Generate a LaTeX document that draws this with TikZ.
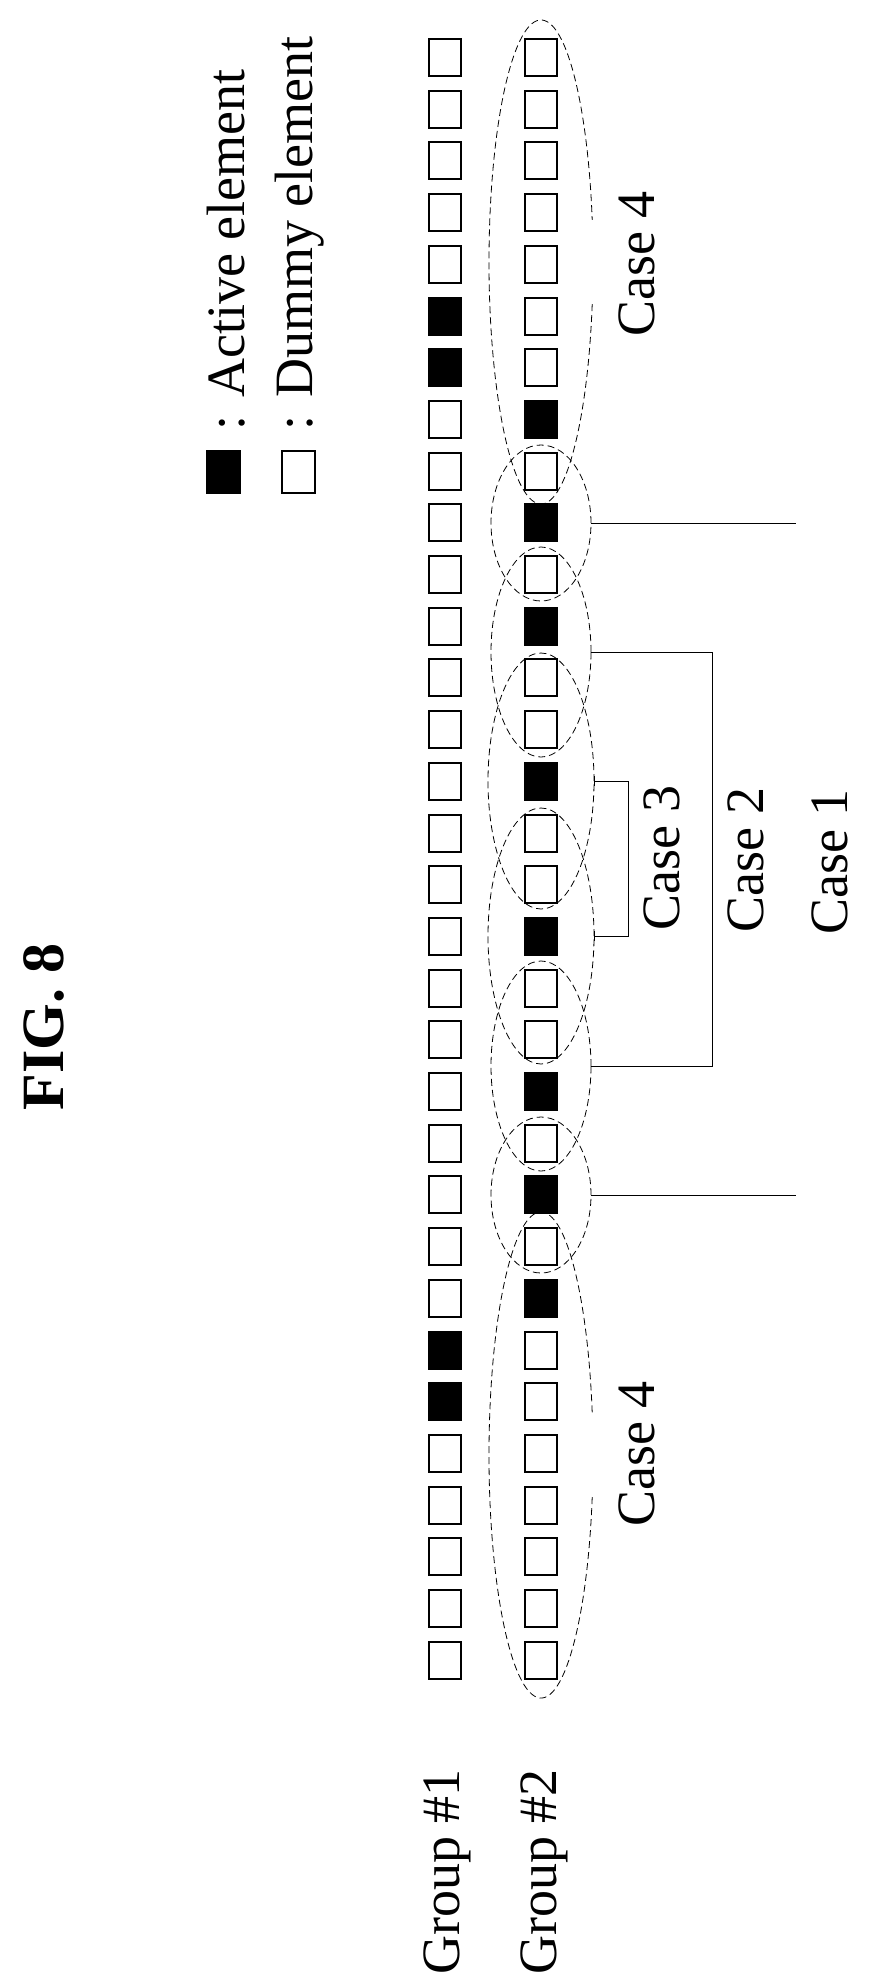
\documentclass[tikz,border=0pt]{standalone}
\usepackage{fontspec}
\setmainfont{Liberation Serif}
\usepackage{tikz}
\usetikzlibrary{positioning,shapes,arrows.meta}
\tikzstyle{dummy}=[%
      rectangle, draw=black, line width=2pt, fill=white,
      minimum width=32pt, minimum height=37pt, inner sep=0pt
]
\tikzstyle{active}=[%
      rectangle, draw=black, line width=2pt, fill=black,
      minimum width=32pt, minimum height=37pt, inner sep=0pt
]
\tikzstyle{grp}=[%
      ellipse, draw=black, line width=0.8pt, dash pattern=on 7pt off 4pt,
      inner sep=0pt
]
\tikzstyle{lbl}=[%
      rotate=90, font=\fontsize{54}{60}\selectfont, inner sep=0pt
]

\begin{document}
\begin{tikzpicture}[x=1pt, y=-1pt]
    \useasboundingbox (0,0) rectangle (869,1978);

    % elements of both groups
    \foreach \i in {1,...,32}{
      \gdef\stA{dummy}\gdef\stB{dummy}
      \foreach \j in {6,7,26,27}{\ifnum\i=\j \gdef\stA{active}\fi}
      \foreach \j in {8,10,12,15,18,21,23,25}{\ifnum\i=\j \gdef\stB{active}\fi}
      \node[\stA] (ga\i) at (445, {57.5+(\i-1)*51.7}) {};
      \node[\stB] (gb\i) at (541, {57.5+(\i-1)*51.7}) {};
    }

    \node[lbl, anchor=west] (grpone) at (447, 1975) {Group \#1};
    \node[lbl, anchor=west] (grptwo) at (544, 1975) {Group \#2};

    % legend
    \node[active, minimum width=33pt, minimum height=42pt] (legA) at (223, 472) {};
    \node[dummy, minimum width=33pt, minimum height=42pt] (legD) at (298, 472) {};
    \node[lbl, anchor=west] (txtA) at (226, 431) {: Active element};
    \node[lbl, anchor=west] (txtD) at (300, 431) {: Dummy element};

    \node[lbl, font=\fontsize{60}{66}\selectfont\bfseries] (title) at (44, 1027) {FIG. 8};

    % windows over group 2
    \draw[line width=0.8pt, dash pattern=on 7pt off 4pt]
      (541,262) ++(10:52 and 242) arc[start angle=10, end angle=350, x radius=52, y radius=242];
    \draw[line width=0.8pt, dash pattern=on 7pt off 4pt]
      (541,1455) ++(10:52 and 243) arc[start angle=10, end angle=350, x radius=52, y radius=243];
    \node[grp, minimum width=100pt, minimum height=156pt] (wa)  at (541, 523) {};
    \node[grp, minimum width=100pt, minimum height=210pt] (wb)  at (541, 652) {};
    \node[grp, minimum width=106pt, minimum height=256pt] (wc)  at (541, 781) {};
    \node[grp, minimum width=106pt, minimum height=256pt] (wcp) at (541, 936) {};
    \node[grp, minimum width=100pt, minimum height=210pt] (wbp) at (541, 1066) {};
    \node[grp, minimum width=100pt, minimum height=156pt] (wap) at (541, 1195) {};

    \node[lbl] (case4a) at (637, 264) {Case 4};
    \node[lbl] (case4b) at (637, 1454) {Case 4};
    \node[lbl] (case3) at (662, 858) {Case 3};
    \node[lbl] (case2) at (746, 860) {Case 2};
    \node[lbl] (case1) at (830, 862) {Case 1};

    % brackets
    \draw[line width=1pt] (wa.east) -- ++(205,0);
    \draw[line width=1pt] (wap.east) -- ++(205,0);
    \draw[line width=1pt] (wb.east) -- ++(121,0) |- (wbp.east);
    \draw[line width=1pt, {Bar[width=10pt]}-{Bar[width=10pt]}] (wc.east) -- ++(34,0) |- (wcp.east);
\end{tikzpicture}
\end{document}
